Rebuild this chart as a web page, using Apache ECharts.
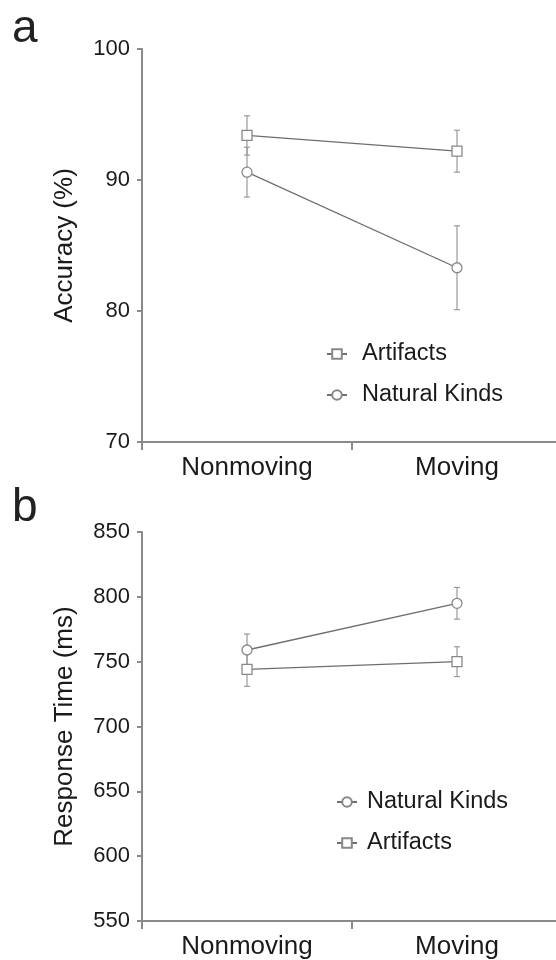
<!DOCTYPE html>
<html>
<head>
<meta charset="utf-8">
<script src="https://cdn.jsdelivr.net/npm/echarts@6/dist/echarts.min.js"></script>
<style>
html,body{margin:0;padding:0;background:#fff;overflow:hidden;}
#chart{width:562px;height:960px;}
</style>
</head>
<body>
<div id="chart"></div>
<script>
var categories = ['Nonmoving', 'Moving'];
var accTicks = [70, 80, 90, 100];
var rtTicks = [550, 600, 650, 700, 750, 800, 850];

// Panel a: accuracy (%)
var accArtifacts = [93.4, 92.2];
var accArtifactsErr = [1.5, 1.6];
var accNatural = [90.6, 83.3];
var accNaturalErr = [1.9, 3.2];

// Panel b: response time (ms)
var rtNatural = [759, 795];
var rtNaturalErr = [12.3, 12.2];
var rtArtifacts = [744, 750];
var rtArtifactsErr = [13, 11.5];

var FONT = '"Liberation Sans", Arial, Helvetica, sans-serif';
var AXIS_COLOR = '#8a8a8a';
var TEXT_COLOR = '#1a1a1a';

function errData(vals, errs) {
  return vals.map(function (v, i) { return [i, v - errs[i], v + errs[i]]; });
}

function errRender(params, api) {
  var x = api.value(0);
  var p1 = api.coord([x, api.value(2)]);
  var p2 = api.coord([x, api.value(1)]);
  var w = 3;
  var st = { stroke: '#999', lineWidth: 1.2 };
  return {
    type: 'group',
    children: [
      { type: 'line', shape: { x1: p1[0], y1: p1[1], x2: p2[0], y2: p2[1] }, style: st },
      { type: 'line', shape: { x1: p1[0] - w, y1: p1[1], x2: p1[0] + w, y2: p1[1] }, style: st },
      { type: 'line', shape: { x1: p2[0] - w, y1: p2[1], x2: p2[0] + w, y2: p2[1] }, style: st }
    ]
  };
}

function xAx(gi) {
  return {
    type: 'category', gridIndex: gi, data: categories, boundaryGap: true,
    axisLine: { lineStyle: { color: AXIS_COLOR, width: 2 } },
    axisTick: { show: true, length: 8, lineStyle: { color: AXIS_COLOR, width: 2 } },
    axisLabel: { color: TEXT_COLOR, fontSize: 26, fontFamily: FONT, margin: 13 },
    splitLine: { show: false }
  };
}

function yAx(gi, ticks, name, gap) {
  return {
    type: 'value', gridIndex: gi,
    min: ticks[0], max: ticks[ticks.length - 1], interval: ticks[1] - ticks[0],
    name: name, nameLocation: 'middle', nameGap: gap,
    nameTextStyle: { color: TEXT_COLOR, fontSize: 26, fontFamily: FONT },
    axisLine: { show: true, lineStyle: { color: AXIS_COLOR, width: 2 } },
    axisTick: { show: true, length: 5, lineStyle: { color: AXIS_COLOR, width: 2 } },
    axisLabel: { color: TEXT_COLOR, fontSize: 22, fontFamily: FONT, margin: 12 },
    splitLine: { show: false }
  };
}

function lineSeries(name, data, symbol, gi) {
  return {
    type: 'line', name: name, data: data,
    xAxisIndex: gi, yAxisIndex: gi,
    symbol: symbol, symbolSize: 10, z: 3,
    lineStyle: { color: '#6e6e6e', width: 1.3 },
    itemStyle: { color: '#fff', borderColor: '#888', borderWidth: 1.3 },
    emphasis: { disabled: true }
  };
}

function errSeries(vals, errs, gi) {
  return {
    type: 'custom', renderItem: errRender, data: errData(vals, errs),
    xAxisIndex: gi, yAxisIndex: gi, z: 2, silent: true,
    encode: { x: 0, y: [1, 2] }
  };
}

var legendCommon = {
  orient: 'vertical', itemWidth: 20, itemHeight: 12, itemGap: 17,
  selectedMode: false,
  textStyle: { color: TEXT_COLOR, fontSize: 23.5, fontFamily: FONT, lineHeight: 23 }
};

var chart = echarts.init(document.getElementById('chart'), null, { renderer: 'canvas' });
chart.setOption({
  animation: false,
  backgroundColor: '#fff',
  graphic: [
    { type: 'text', left: 12, top: 6, style: { text: 'a', font: '46px ' + FONT, fill: '#222' } },
    { type: 'text', left: 12, top: 485, style: { text: 'b', font: '46px ' + FONT, fill: '#222' } }
  ],
  grid: [
    { left: 142, top: 49, width: 420, height: 393 },
    { left: 142, top: 532, width: 420, height: 391 }
  ],
  xAxis: [xAx(0), xAx(1)],
  yAxis: [yAx(0, accTicks, 'Accuracy (%)', 64), yAx(1, rtTicks, 'Response Time (ms)', 64)],
  legend: [
    Object.assign({}, legendCommon, {
      left: 321, top: 337, data: ['Artifacts', 'Natural Kinds'],
      textStyle: Object.assign({}, legendCommon.textStyle, { padding: [0, 0, 0, 10] })
    }),
    Object.assign({}, legendCommon, {
      left: 331, top: 785, data: ['Natural Kinds', 'Artifacts'],
      textStyle: Object.assign({}, legendCommon.textStyle, { padding: [0, 0, 0, 5] })
    })
  ],
  series: [
    errSeries(accArtifacts, accArtifactsErr, 0),
    errSeries(accNatural, accNaturalErr, 0),
    lineSeries('Artifacts', accArtifacts, 'rect', 0),
    lineSeries('Natural Kinds', accNatural, 'circle', 0),
    errSeries(rtNatural, rtNaturalErr, 1),
    errSeries(rtArtifacts, rtArtifactsErr, 1),
    lineSeries('Natural Kinds', rtNatural, 'circle', 1),
    lineSeries('Artifacts', rtArtifacts, 'rect', 1)
  ]
});
</script>
</body>
</html>
